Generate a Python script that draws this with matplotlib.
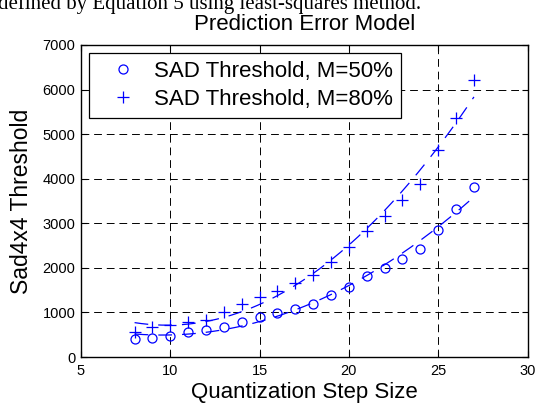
import numpy as np
import matplotlib
matplotlib.use("Agg")
import matplotlib.pyplot as plt

# Data
q_step = [8, 9, 10, 11, 12, 13, 14, 15, 16, 17, 18, 19, 20, 21, 22, 23, 24, 25, 26, 27]
sad_m50 = [410, 430, 480, 560, 600, 680, 790, 900, 980, 1070, 1200, 1380, 1580, 1816, 1990, 2200, 2415, 2860, 3330, 3820]
sad_m80 = [560, 665, 715, 790, 830, 1015, 1190, 1350, 1490, 1650, 1830, 2140, 2460, 2830, 3160, 3520, 3880, 4640, 5370, 6210]

labels = ["SAD Threshold, M=50%", "SAD Threshold, M=80%"]
xticks = [5, 10, 15, 20, 25, 30]
yticks = [0, 1000, 2000, 3000, 4000, 5000, 6000, 7000]

plt.rcParams['font.family'] = ['Liberation Sans', 'DejaVu Sans']

fig = plt.figure(figsize=(5.4, 4.05), dpi=100)
ax = fig.add_axes([0.15, 0.1185, 0.8269, 0.7704])

blue = '#0000ff'
x = np.array(q_step, dtype=float)
ax.plot(x, sad_m50, linestyle='none', marker='o', markersize=6.5,
        markerfacecolor='none', markeredgecolor=blue, markeredgewidth=0.9, label=labels[0])
ax.plot(x, sad_m80, linestyle='none', marker='+', markersize=8,
        markeredgecolor=blue, markeredgewidth=0.9, label=labels[1])

# least-squares fits
xf = np.linspace(x.min(), x.max(), 200)
for ys in (sad_m50, sad_m80):
    c = np.polyfit(x, ys, 2)
    ax.plot(xf, np.polyval(c, xf), color=blue, linewidth=0.9, dashes=(11, 8))

ax.set_xlim(5, 30)
ax.set_ylim(0, 7000)
ax.set_xticks(xticks)
ax.set_yticks(yticks)
ax.tick_params(direction='in', top=True, right=True, labelsize=10.5, length=4, width=0.8)
ax.tick_params(axis='x', pad=5)
ax.tick_params(axis='y', pad=4)
ax.grid(True, color='black', linestyle=(0, (8, 5)), linewidth=0.7)
for s in ax.spines.values():
    s.set_linewidth(1.0)

ax.set_xlabel("Quantization Step Size", fontsize=16, labelpad=3)
ax.set_ylabel("Sad4x4 Threshold", fontsize=16.5, labelpad=7)
ax.set_title("Prediction Error Model", fontsize=16, pad=10.8)

leg = ax.legend(loc='upper left', fontsize=16, frameon=True, fancybox=False,
                edgecolor='black', framealpha=1, borderaxespad=0.38, borderpad=0.35,
                handletextpad=0.2, handlelength=2.35, labelspacing=0.3)
leg.get_frame().set_linewidth(0.9)

fig.text(-0.004, 1 - 9.5/405, "defined by Equation 5 using least-squares method.",
         family=['Liberation Serif', 'DejaVu Serif'], fontsize=15, va='baseline', ha='left')

fig.savefig("out.png", dpi=100)
